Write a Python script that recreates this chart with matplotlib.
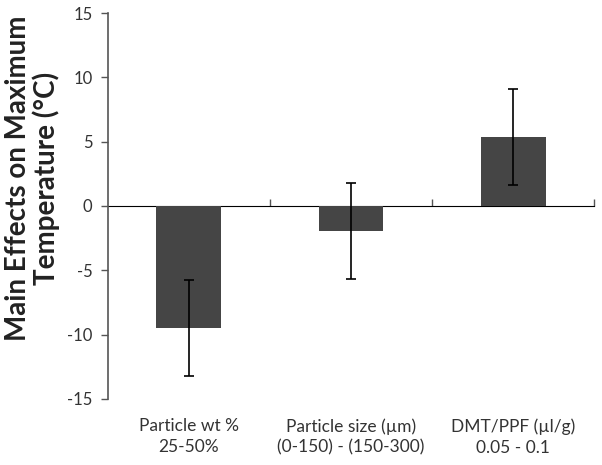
import matplotlib
matplotlib.use("Agg")
import matplotlib.pyplot as plt
import numpy as np

categories = ["Particle wt %\n25-50%",
              "Particle size (\u00b5m)\n(0-150) - (150-300)",
              "DMT/PPF (\u00b5l/g)\n0.05 - 0.1"]
effects = [-9.5, -1.95, 5.36]
errors = [3.75, 3.75, 3.73]
yticks = [-15, -10, -5, 0, 5, 10, 15]

plt.rcParams["font.family"] = ["Lato", "DejaVu Sans"]
text_color = "#333333"

fig = plt.figure(figsize=(6.02, 4.65), dpi=100)
ax = fig.add_axes([0.179, 0.142, 0.808, 0.830])

x = np.arange(len(categories))
ax.bar(x, effects, width=0.4, color="#454545", zorder=2)
ax.errorbar(x, effects, yerr=errors, fmt="none", ecolor="black",
            elinewidth=1.2, capsize=3.5, capthick=1.2, zorder=3)

ax.set_xlim(-0.5, len(categories) - 0.5)
ax.set_ylim(-15, 15)
ax.set_yticks(yticks)
ax.set_yticklabels([str(v) for v in yticks])

for s in ["top", "right", "bottom"]:
    ax.spines[s].set_visible(False)
ax.spines["left"].set_color("#555555")
ax.spines["left"].set_linewidth(1.2)

ax.tick_params(axis="y", direction="out", length=5, width=1, color="#555555",
               labelsize=12, labelcolor=text_color, pad=6)
ax.set_xticks(x)
ax.set_xticklabels(categories, linespacing=1.35)
ax.tick_params(axis="x", length=0, labelsize=12.5, labelcolor=text_color, pad=14)

# zero line with category boundary ticks
sec = ax.secondary_xaxis(0.5)
sec.set_xticks(np.arange(len(categories)) + 0.5)
sec.set_xticklabels([])
sec.spines["bottom"].set_color("#555555")
sec.spines["bottom"].set_linewidth(1.2)
sec.tick_params(axis="x", direction="out", length=5, width=1, color="#555555")

# y label sits a bit above the axis centre in the original
fig.text(0.054, 0.617, "Main Effects on Maximum\nTemperature (\u00b0C)", fontsize=20,
         fontweight="bold", color="#222222", rotation=90, ha="center", va="center",
         linespacing=1.1, multialignment="center")

fig.savefig("out.png", dpi=100)
